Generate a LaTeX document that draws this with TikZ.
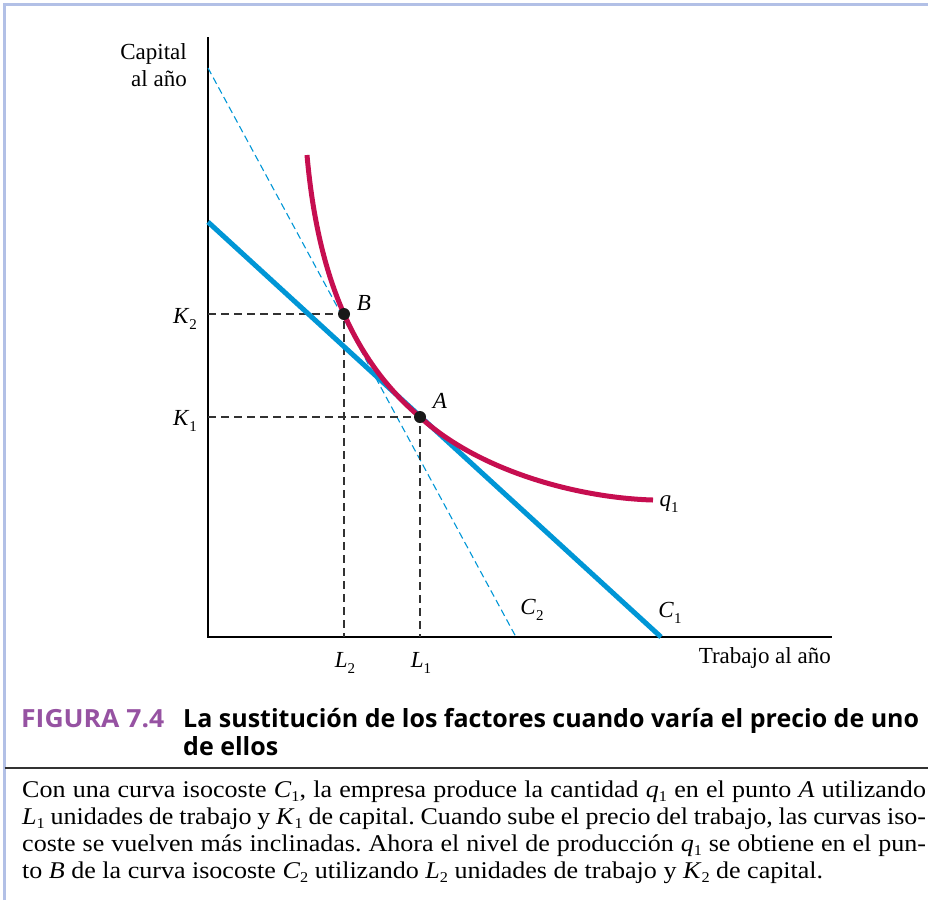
\documentclass[tikz,border=0pt]{standalone}
\usepackage{fontspec}
\usepackage{graphicx}
\setmainfont{Liberation Serif}
\newfontfamily\titlefont{Open Sans}
\definecolor{frameblue}{RGB}{178,192,230}
\definecolor{costblue}{RGB}{0,150,214}
\definecolor{isoquant}{RGB}{198,14,80}
\definecolor{figpurple}{RGB}{150,82,162}
\definecolor{guidegray}{RGB}{50,50,50}
\newcommand\sbs[1]{\raisebox{-0.28em}{\fontsize{15}{15}\selectfont #1}}
\newcommand\capsb[1]{\raisebox{-0.2em}{\fontsize{15}{15}\selectfont #1}}
\newcommand\jline[1]{\scalebox{1.085}[1]{\makebox[833pt][s]{#1}}}
\newcommand\nline[1]{\scalebox{1.085}[1]{#1}}
\begin{document}
\frenchspacing
\begin{tikzpicture}[x=1pt,y=-1pt,
  frameline/.style={frameblue,line width=3pt},
  axisline/.style={black,line width=1.2pt},
  costone/.style={costblue,line width=5pt},
  costtwo/.style={costblue,line width=1.1pt,dash pattern=on 7pt off 4pt},
  qcurve/.style={isoquant,line width=5pt},
  guide/.style={guidegray,line width=1.2pt,dash pattern=on 8pt off 5pt},
  dotpt/.style={circle,fill=black!90,inner sep=0pt,minimum size=12pt},
  lab/.style={inner sep=0pt,font=\fontsize{23}{27}\selectfont},
  capline/.style={inner sep=0pt,anchor=base west,font=\fontsize{24}{27}\selectfont},
  titleline/.style={inner sep=0pt,anchor=base west,font=\titlefont\bfseries\fontsize{25}{27}\selectfont}]
\useasboundingbox (0,0) rectangle (928,900);
% frame
\coordinate (fTL) at (4.5,4);
\coordinate (fTR) at (928,4);
\coordinate (fBL) at (4.5,900);
\draw[frameline] (fBL) -- (fTL) -- (fTR);
% axes
\coordinate (O) at (208,637);
\coordinate (Ytop) at (208,37);
\coordinate (Xend) at (832,637);
\draw[axisline] (Ytop) -- (O) -- (Xend);
% isocost lines
\coordinate (C2a) at (208,68);
\coordinate (C2b) at (516,637);
\coordinate (C1a) at (208,222);
\coordinate (C1b) at (661,637);
\draw[costtwo] (C2a) -- (C2b);
% points
\coordinate (A) at (420,417);
\coordinate (B) at (344,314);
\coordinate (K1) at (208,417);
\coordinate (K2) at (208,314);
\coordinate (L1) at (420,637);
\coordinate (L2) at (344,637);
\draw[guide] (K2) -- (B) -- (L2);
\draw[guide] (K1) -- (A) -- (L1);
\draw[costone] (C1a) -- (C1b);
% isoquant
\coordinate (qs) at (307,155);
\coordinate (qe) at (653,500);
\draw[qcurve] (qs) .. controls (318,280) and (355,362) .. (A)
  .. controls (480,472) and (580,498) .. (qe);
\node[dotpt] (Bdot) at (B) {};
\node[dotpt] (Adot) at (A) {};
% labels
\node[lab,anchor=east,align=right] (cap) at (187,65) {Capital\\al año};
\node[lab] (k2lab) at (185,319) {\textit{K}\sbs{2}};
\node[lab] (k1lab) at (185,421) {\textit{K}\sbs{1}};
\node[lab] (blab) at (364,303) {\textit{B}};
\node[lab] (alab) at (440,401) {\textit{A}};
\node[lab] (qlab) at (669,504) {\textit{q}\sbs{1}};
\node[lab] (c2lab) at (532,610) {\textit{C}\sbs{2}};
\node[lab] (c1lab) at (670,613) {\textit{C}\sbs{1}};
\node[lab] (l2lab) at (345,663) {\textit{L}\sbs{2}};
\node[lab] (l1lab) at (421,663) {\textit{L}\sbs{1}};
\node[lab,anchor=east] (xlab) at (831,658) {Trabajo al año};
% title
\node[titleline,text=figpurple] (fig) at (21,727) {\scalebox{1.06}[1]{FIGURA 7.4}};
\node[titleline] (t1) at (183,727) {La sustitución de los factores cuando varía el precio de uno};
\node[titleline] (t2) at (183,755) {de ellos};
\coordinate (rl) at (4.5,768);
\coordinate (rr) at (928,768);
\draw[guidegray,line width=1.6pt] (rl) -- (rr);
% caption
\node[capline] (cl1) at (22,797) {\jline{Con una curva isocoste \textit{C}\capsb{1}, la empresa produce la cantidad \textit{q}\capsb{1} en el punto \textit{A} utilizando}};
\node[capline] (cl2) at (22,824) {\jline{\textit{L}\capsb{1} unidades de trabajo y \textit{K}\capsb{1} de capital. Cuando sube el precio del trabajo, las curvas iso-}};
\node[capline] (cl3) at (22,851) {\jline{coste se vuelven más inclinadas. Ahora el nivel de producción \textit{q}\capsb{1} se obtiene en el pun-}};
\node[capline] (cl4) at (22,878) {\nline{to \textit{B} de la curva isocoste \textit{C}\capsb{2} utilizando \textit{L}\capsb{2} unidades de trabajo y \textit{K}\capsb{2} de capital.}};
\end{tikzpicture}
\end{document}
